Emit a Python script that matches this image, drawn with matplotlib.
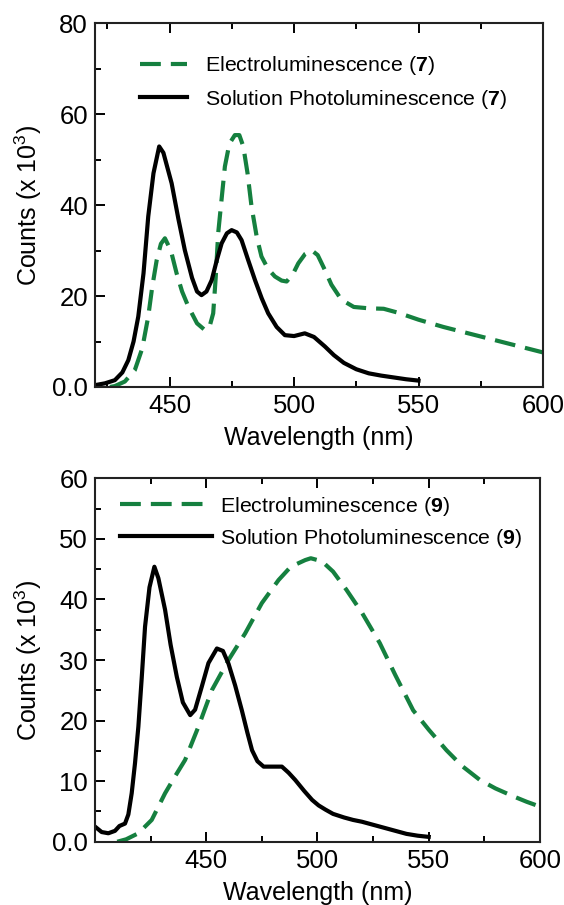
import matplotlib
matplotlib.use("Agg")
import matplotlib.pyplot as plt
from matplotlib.ticker import FixedLocator

plt.rcParams['font.family'] = ['Liberation Sans', 'DejaVu Sans']
plt.rcParams['mathtext.fontset'] = 'custom'
plt.rcParams['mathtext.rm'] = 'Liberation Sans'
plt.rcParams['mathtext.bf'] = 'Liberation Sans:bold'

GREEN = '#15803f'

# ---- Top panel (compound 7) ----
pl7_x = [420, 424, 428, 431, 433.4, 435.5, 437.4, 439.5, 441.4, 443.5, 445.8, 447.5, 450.8, 453.5, 456.1, 459, 461, 462.8,
         464.8, 466.9, 469, 470.9, 473, 474.9, 477, 478.9, 481.5, 484.3, 487, 489.6, 493, 496.3, 500, 504.3, 508,
         512.4, 516, 520, 525, 530, 535, 540, 545, 550]
pl7_y = [0.4, 0.8, 1.5, 3.2, 5.9, 10, 15.5, 25, 37.5, 47, 52.9, 51.5, 44.8, 37, 30.1, 24, 21, 20.2,
         21, 23.5, 28, 31.6, 33.8, 34.5, 34, 32.3, 28, 23.5, 19.5, 16.2, 13.2, 11.4, 11.2, 11.8, 11.0,
         8.9, 7.0, 5.3, 3.9, 3.0, 2.5, 2.1, 1.7, 1.4]

el7_x = [426, 428, 432, 436, 439, 441.4, 443, 444.8, 446.5, 448.1, 450.5, 452.8, 455, 457.5, 461, 464.2, 466, 467.5,
         468.5, 469.5, 471, 472.2, 474, 476.2, 478, 479.6, 481.3, 482.9, 485, 486.9, 489.5, 492.3, 495, 497, 499.5,
         501.7, 504.5, 507, 509.5, 512.4, 515, 519, 524, 530, 536, 542, 550, 560, 570, 580, 590, 600]
el7_y = [0, 0.2, 1.2, 3.7, 8.5, 15.5, 22, 27.9, 31.5, 32.7, 30, 25, 21, 17.7, 14, 12.5, 13.2, 16.2,
         24, 33.8, 42, 48.5, 53.5, 55.4, 55.4, 52.9, 47, 39.7, 33, 28.7, 26, 24.3, 23.4, 23.2, 24.8,
         27.2, 29.3, 30.1, 29, 25.7, 22.5, 19.2, 17.6, 17.3, 17.2, 16.3, 14.8, 13.2, 11.8, 10.4, 9.0, 7.6]

# ---- Bottom panel (compound 9) ----
pl9_x = [400, 403, 406, 409, 411, 413.5, 415, 416.5, 418, 419.5, 421, 422.5, 424.5, 426.7, 428.5, 431.5, 434, 436.8,
         439.5, 442.8, 445, 448, 451, 454.8, 457.5, 460, 463, 466, 468.5, 470.6, 473, 475.8, 480, 484, 487, 490,
         494, 497.6, 500.5, 503.6, 507, 512, 516, 520, 525, 530, 535, 540, 545, 550]
pl9_y = [2.5, 1.6, 1.4, 1.8, 2.6, 3.0, 4.5, 8, 13, 19, 27, 35.5, 42, 45.4, 43.5, 38.3, 32.5, 27.2,
         23, 20.9, 21.8, 25.6, 29.5, 31.9, 31.5, 29.4, 25.8, 21.7, 18, 15.1, 13.3, 12.4, 12.4, 12.4, 11.4, 10.2,
         8.4, 6.9, 6.0, 5.3, 4.6, 4.0, 3.6, 3.3, 2.8, 2.3, 1.8, 1.3, 1.0, 0.8]

el9_x = [410, 414, 419.5, 425.5, 431.5, 436, 440.5, 446.5, 452.5, 460, 467.5, 475, 482.5, 488, 494.5, 497, 502, 507,
         513, 520, 528, 535, 543, 550, 558, 565, 573, 580, 588, 594, 600]
el9_y = [0, 0.4, 1.4, 3.6, 8, 10.8, 13.5, 19, 25, 30, 34.4, 39.4, 43.2, 45.4, 46.5, 46.8, 46.3, 44.6,
         41.6, 37.8, 32.8, 27.5, 21.7, 18.5, 15.1, 12.5, 10.2, 8.8, 7.5, 6.6, 5.8]

x_major = [450, 500, 550, 600]
x_minor = [425, 475, 525, 575]
y7_major = [0, 20, 40, 60, 80]
y7_minor = [10, 30, 50, 70]
y7_labels = ['0.0', '20', '40', '60', '80']
y9_major = [0, 10, 20, 30, 40, 50, 60]
y9_minor = [5, 15, 25, 35, 45, 55]
y9_labels = ['0.0', '10', '20', '30', '40', '50', '60']

fig = plt.figure(figsize=(5.64, 9.05), dpi=100)
ax1 = fig.add_axes([0.1684, 0.5724, 0.7943, 0.4019])
ax2 = fig.add_axes([0.1684, 0.0699, 0.7890, 0.4016])

def style(ax, xlim, ylim, ymaj, ymin, ylabels):
    ax.set_xlim(*xlim)
    ax.set_ylim(*ylim)
    ax.xaxis.set_major_locator(FixedLocator(x_major))
    ax.xaxis.set_minor_locator(FixedLocator(x_minor))
    ax.yaxis.set_major_locator(FixedLocator(ymaj))
    ax.yaxis.set_minor_locator(FixedLocator(ymin))
    ax.set_yticklabels(ylabels)
    ax.tick_params(which='both', direction='in', top=True, right=False, width=1.4, labelsize=18.5, pad=5)
    ax.tick_params(which='major', length=7)
    ax.tick_params(which='minor', length=4.5)
    for s in ax.spines.values():
        s.set_linewidth(1.5)
        s.set_color('#222222')
    ax.set_xlabel('Wavelength (nm)', fontsize=18, labelpad=6)
    ax.set_ylabel('Counts (x 10$^{3}$)', fontsize=18, labelpad=6)

# top
ax1.plot(el7_x, el7_y, color=GREEN, lw=3.0, dashes=(5.0, 2.4),
         label=r'Electroluminescence ($\mathbf{7}$)')
ax1.plot(pl7_x, pl7_y, color='black', lw=3.0,
         label=r'Solution Photoluminescence ($\mathbf{7}$)')
style(ax1, (420, 600), (0, 80), y7_major, y7_minor, y7_labels)
ax1.legend(loc='upper left', bbox_to_anchor=(0.1, 0.915), frameon=False, fontsize=15.4,
           handlelength=2.2, handletextpad=0.85, labelspacing=0.5, borderpad=0, borderaxespad=0)

# bottom
ax2.plot(el9_x, el9_y, color=GREEN, lw=3.0, dashes=(5.0, 2.4),
         label=r'Electroluminescence ($\mathbf{9}$)')
ax2.plot(pl9_x, pl9_y, color='black', lw=3.0,
         label=r'Solution Photoluminescence ($\mathbf{9}$)')
style(ax2, (400, 600), (0, 60), y9_major, y9_minor, y9_labels)
ax2.legend(loc='upper left', bbox_to_anchor=(0.056, 0.955), frameon=False, fontsize=15.4,
           handlelength=4.3, handletextpad=0.4, labelspacing=0.42, borderpad=0, borderaxespad=0)

fig.savefig('out.png', dpi=100)
